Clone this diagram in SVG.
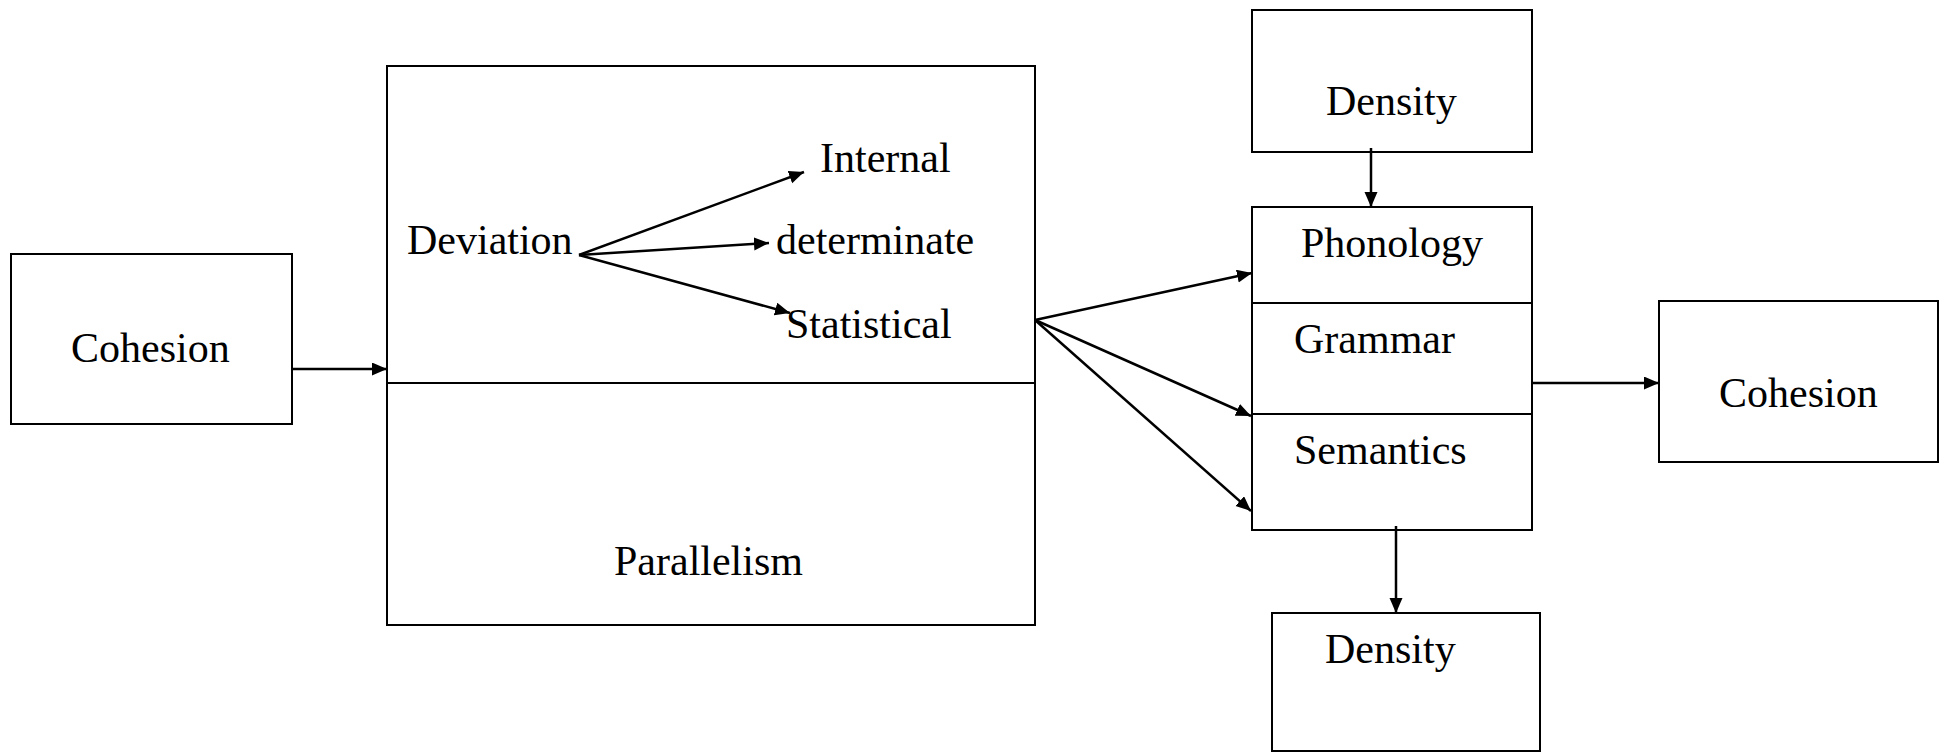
<svg xmlns="http://www.w3.org/2000/svg" width="1939" height="752" viewBox="0 0 1939 752">
<style>
.box{fill:#fff;stroke:#000;stroke-width:2}
.div{stroke:#000;stroke-width:2;fill:none}
.t{font-family:"Liberation Serif","Times New Roman",serif;font-size:42px;fill:#000}
.c{stroke:#000;stroke-width:2.5;fill:none;marker-end:url(#ah)}
</style>
<defs>
<marker id="ah" markerUnits="userSpaceOnUse" markerWidth="16" markerHeight="14" refX="15" refY="6.5" orient="auto">
<path d="M0,0 L15,6.5 L0,13 z" fill="#000"/>
</marker>
</defs>
<rect width="1939" height="752" fill="#fff"/>
<g id="cohesion-left">
<rect class="box" x="11" y="254" width="281" height="170"/>
<text class="t" x="71" y="362">Cohesion</text>
</g>
<g id="main-box">
<rect class="box" x="387" y="66" width="648" height="559"/>
<line class="div" x1="387" y1="383" x2="1035" y2="383"/>
<text class="t" x="407" y="254">Deviation</text>
<text class="t" x="820" y="172">Internal</text>
<text class="t" x="776" y="254">determinate</text>
<text class="t" x="786" y="338">Statistical</text>
<text class="t" x="614" y="575">Parallelism</text>
</g>
<g id="density-top">
<rect class="box" x="1252" y="10" width="280" height="142"/>
<text class="t" x="1326" y="115">Density</text>
</g>
<g id="levels">
<rect class="box" x="1252" y="207" width="280" height="323"/>
<line class="div" x1="1252" y1="303" x2="1532" y2="303"/>
<line class="div" x1="1252" y1="414" x2="1532" y2="414"/>
<text class="t" x="1301" y="257">Phonology</text>
<text class="t" x="1294" y="353">Grammar</text>
<text class="t" x="1294" y="464">Semantics</text>
</g>
<g id="density-bottom">
<rect class="box" x="1272" y="613" width="268" height="138"/>
<text class="t" x="1325" y="663">Density</text>
</g>
<g id="cohesion-right">
<rect class="box" x="1659" y="301" width="279" height="161"/>
<text class="t" x="1719" y="407">Cohesion</text>
</g>
<g id="connectors">
<line class="c" x1="292" y1="369" x2="387" y2="369"/>
<line class="c" x1="579" y1="255" x2="804" y2="172"/>
<line class="c" x1="579" y1="255" x2="769" y2="243"/>
<line class="c" x1="579" y1="255" x2="790" y2="313"/>
<line class="c" x1="1035" y1="320" x2="1252" y2="273"/>
<line class="c" x1="1035" y1="320" x2="1251" y2="416"/>
<line class="c" x1="1035" y1="320" x2="1251" y2="511"/>
<line class="c" x1="1371" y1="148" x2="1371" y2="207"/>
<line class="c" x1="1396" y1="526" x2="1396" y2="613"/>
<line class="c" x1="1532" y1="383" x2="1659" y2="383"/>
</g>
</svg>
